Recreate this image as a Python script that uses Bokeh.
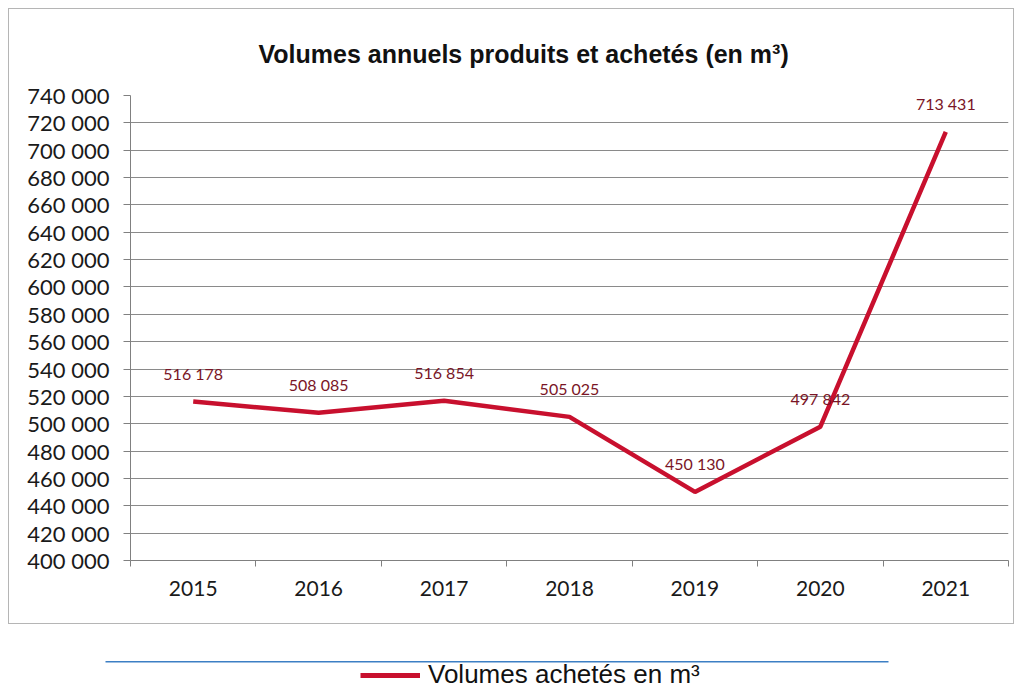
from bokeh.plotting import figure
from bokeh.layouts import column
from bokeh.models import (ColumnDataSource, Range1d, FixedTicker, Legend, LegendItem,
                          BoxAnnotation)
from bokeh.core.properties import value
from bokeh.embed import file_html
from bokeh.resources import INLINE

years = ["2015", "2016", "2017", "2018", "2019", "2020", "2021"]
volumes = [516178, 508085, 516854, 505025, 450130, 497842, 713431]
y_ticks = list(range(400000, 740001, 20000))
title_text = "Volumes annuels produits et achetés (en m³)"
legend_text = "Volumes achetés en m³"

def fmt(v):
    return f"{v:,}".replace(",", " ")

xs = [i + 0.5 for i in range(len(years))]
src = ColumnDataSource(dict(x=xs, y=volumes, lab=[fmt(v) for v in volumes]))

RED = "#C8102E"

p = figure(width=1006, height=616, output_backend="svg", toolbar_location=None,
           x_range=Range1d(0, len(years)), y_range=Range1d(400000, 740000),
           min_border_left=121, min_border_right=7, min_border_top=85, min_border_bottom=65,
           title=title_text)
p.frame_align = False
p.margin = (8, 0, 0, 8)
p.styles = {"border": "1px solid #b5b5b5"}
p.title.align = "left"
p.title.offset = 128
p.title.standoff = 56
p.title.text_font = "Liberation Sans"
p.title.text_font_style = "bold"
p.title.text_font_size = "25px"
p.title.text_color = "#111111"
p.outline_line_color = None

# axes
p.xaxis.ticker = FixedTicker(ticks=xs, minor_ticks=list(range(len(years) + 1)))
p.xaxis.major_label_overrides = {x: y for x, y in zip(xs, years)}
p.xaxis.major_tick_line_color = None
p.xaxis.minor_tick_in = 0
p.xaxis.minor_tick_out = 6
p.xaxis.minor_tick_line_color = "#808080"
p.xaxis.axis_line_color = "#808080"
p.xaxis.major_label_text_font = "Lato"
p.xaxis.major_label_text_font_size = "21px"
p.xaxis.major_label_text_color = "#1a1a1a"
p.xaxis.major_label_standoff = 14

p.yaxis.ticker = FixedTicker(ticks=y_ticks)
p.yaxis.major_label_overrides = {t: fmt(t) for t in y_ticks}
p.yaxis.minor_tick_line_color = None
p.yaxis.major_tick_in = 0
p.yaxis.major_tick_out = 7
p.yaxis.major_tick_line_color = "#808080"
p.yaxis.axis_line_color = "#808080"
p.yaxis.major_label_text_font = "Lato"
p.yaxis.major_label_text_font_size = "22px"
p.yaxis.major_label_text_color = "#1a1a1a"
p.yaxis.major_label_standoff = 14

p.xgrid.grid_line_color = None
p.ygrid.grid_line_color = "#8a8a8a"
p.ygrid.grid_line_width = 1

line = p.line("x", "y", source=src, line_color=RED, line_width=4.5)
p.text("x", "y", text="lab", source=src, text_align="center", text_baseline="middle",
       y_offset=-28, text_font=value("Lato"), text_font_size="16px", text_color="#7A1526")

# legend strip below the chart box
p2 = figure(width=1016, height=64, output_backend="svg", toolbar_location=None,
            x_range=Range1d(0, 1016), y_range=Range1d(0, 64),
            min_border=0, x_axis_type=None, y_axis_type=None)
p2.frame_align = False
p2.outline_line_color = None
p2.grid.visible = False
p2.add_layout(BoxAnnotation(left=105, right=888, bottom=26, top=27.5,
                            fill_color="#3C7FC4", fill_alpha=1, line_color=None))
lg = p2.line(x=[-100, -90], y=[-100, -100], line_color=RED, line_width=5)
legend = Legend(items=[LegendItem(label=legend_text, renderers=[lg])],
                location=(360, -2), orientation="horizontal",
                glyph_width=60, glyph_height=22, label_standoff=8,
                label_text_font="Liberation Sans", label_text_font_size="26px",
                label_text_color="#111111", border_line_color=None,
                background_fill_alpha=0, padding=0, margin=0)
p2.add_layout(legend, "center")

layout = column(p, p2, spacing=0)
open("out.html", "w").write(file_html(layout, INLINE))
